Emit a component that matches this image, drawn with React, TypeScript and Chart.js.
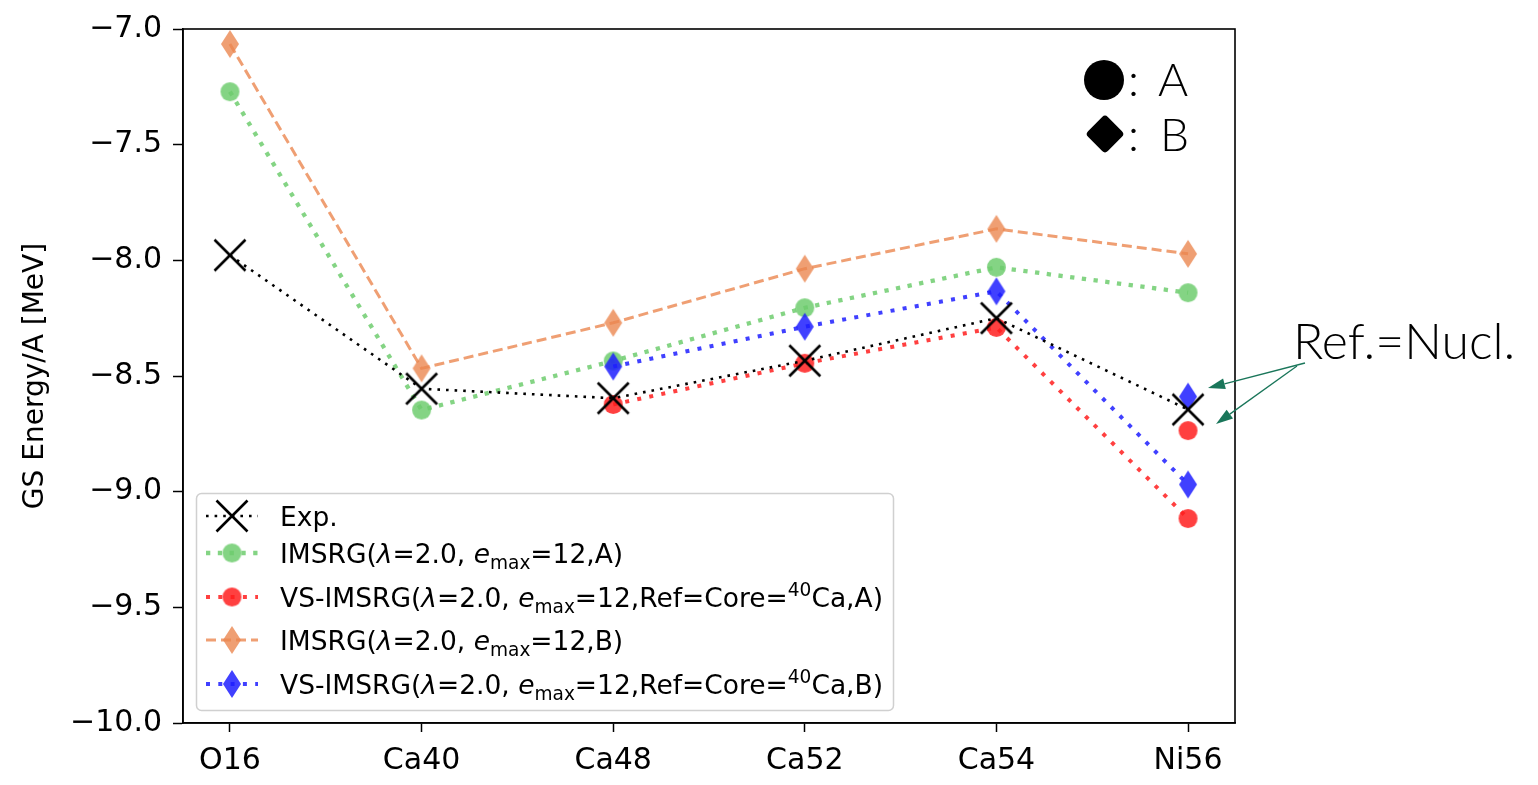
import React, { useEffect, useRef } from 'react';
import { Chart, registerables } from 'chart.js';

Chart.register(...registerables);

// ---------------- data ----------------
const categories = ['O16', 'Ca40', 'Ca48', 'Ca52', 'Ca54', 'Ni56'];
const expValues = [-7.978, -8.555, -8.596, -8.434, -8.25, -8.645];
const imsrgA = [-7.271, -8.647, -8.435, -8.205, -8.03, -8.14];
const vsImsrgA = [null, null, -8.623, -8.445, -8.29, -9.116];
const imsrgB = [-7.065, -8.467, -8.27, -8.036, -7.864, -7.972];
const vsImsrgB = [null, null, -8.459, -8.287, -8.134, -8.969];
const refNuclA = [null, null, null, null, null, -8.736];
const refNuclB = [null, null, null, null, null, -8.589];
const yTicks = [-10, -9.5, -9, -8.5, -8, -7.5, -7];

const GREEN = 'rgba(110,205,110,0.85)';
const RED = 'rgba(255,30,30,0.85)';
const BLUE = 'rgba(30,30,255,0.85)';
const ORANGE = 'rgba(235,135,80,0.8)';
const TEAL = 'rgb(26,118,90)';
const THIN = '300 50px Lato, "Open Sans", sans-serif';

const DASH_EXP = [2.6, 6];
const DASH_GREEN = [4.3, 7.5];
const DASH_VS = [4, 8.3];
const DASH_ORANGE = [10, 5];

function makeCircle(color: string, r: number) {
  const c = document.createElement('canvas');
  const s = Math.ceil(r * 2 + 2);
  c.width = s; c.height = s;
  const x = c.getContext('2d')!;
  x.fillStyle = color;
  x.beginPath();
  x.arc(s / 2, s / 2, r, 0, Math.PI * 2);
  x.fill();
  return c;
}
function makeDiamond(color: string, hw: number, hh: number) {
  const c = document.createElement('canvas');
  const w = Math.ceil(hw * 2 + 2), h = Math.ceil(hh * 2 + 2);
  c.width = w; c.height = h;
  const x = c.getContext('2d')!;
  x.fillStyle = color;
  x.beginPath();
  x.moveTo(w / 2, h / 2 - hh);
  x.lineTo(w / 2 + hw, h / 2);
  x.lineTo(w / 2, h / 2 + hh);
  x.lineTo(w / 2 - hw, h / 2);
  x.closePath();
  x.fill();
  return c;
}
function makeX(size: number, lw: number) {
  const c = document.createElement('canvas');
  const s = Math.ceil(size + lw + 2);
  c.width = s; c.height = s;
  const x = c.getContext('2d')!;
  x.strokeStyle = '#000';
  x.lineWidth = lw;
  const a = (s - size) / 2, b = a + size;
  x.beginPath();
  x.moveTo(a, a); x.lineTo(b, b);
  x.moveTo(b, a); x.lineTo(a, b);
  x.stroke();
  return c;
}

type Part = { t: string; s?: 'i' | 'sub' | 'sup' };
const FS = 26.5;
function drawRich(ctx: CanvasRenderingContext2D, x: number, y: number, parts: Part[]) {
  let cx = x;
  ctx.textBaseline = 'alphabetic';
  ctx.textAlign = 'left';
  ctx.fillStyle = '#000';
  for (const p of parts) {
    let font = `${FS}px "DejaVu Sans"`;
    let dy = 0;
    if (p.s === 'i') font = `italic ${FS}px "DejaVu Sans"`;
    if (p.s === 'sub') { font = `${FS * 0.7}px "DejaVu Sans"`; dy = 6; }
    if (p.s === 'sup') { font = `${FS * 0.7}px "DejaVu Sans"`; dy = -11; }
    ctx.font = font;
    ctx.fillText(p.t, cx, y + dy);
    cx += ctx.measureText(p.t).width;
  }
}

const lam: Part[] = [{ t: 'λ', s: 'i' }];
const emax: Part[] = [{ t: 'e', s: 'i' }, { t: 'max', s: 'sub' }];

function arrow(ctx: CanvasRenderingContext2D, x0: number, y0: number, x1: number, y1: number) {
  const ang = Math.atan2(y1 - y0, x1 - x0);
  const hl = 17, hw = 5.5;
  const bx = x1 - hl * Math.cos(ang), by = y1 - hl * Math.sin(ang);
  ctx.strokeStyle = TEAL;
  ctx.fillStyle = TEAL;
  ctx.lineWidth = 1.3;
  ctx.beginPath();
  ctx.moveTo(x0, y0);
  ctx.lineTo(bx, by);
  ctx.stroke();
  ctx.beginPath();
  ctx.moveTo(x1, y1);
  ctx.lineTo(bx + hw * Math.sin(ang), by - hw * Math.cos(ang));
  ctx.lineTo(bx - hw * Math.sin(ang), by + hw * Math.cos(ang));
  ctx.closePath();
  ctx.fill();
}

export default function App() {
  const ref = useRef<HTMLCanvasElement>(null);
  useEffect(() => {
    const xMark = makeX(31, 2.6);
    const gC = makeCircle(GREEN, 9.5);
    const rC = makeCircle(RED, 9.5);
    const oD = makeDiamond(ORANGE, 9, 14);
    const bD = makeDiamond(BLUE, 9, 14);
    const pts = (arr: (number | null)[]) =>
      arr.map((v, i) => ({ x: i, y: v })).filter((p) => p.y !== null);

    const legendRows = [
      { y: 516, color: '#000', lw: 2.6, dash: DASH_EXP, mark: xMark, parts: [{ t: 'Exp.' }] as Part[] },
      { y: 553, color: GREEN, lw: 4.3, dash: DASH_GREEN, mark: gC, parts: [{ t: 'IMSRG(' }, ...lam, { t: '=2.0, ' }, ...emax, { t: '=12,A)' }] as Part[] },
      { y: 597, color: RED, lw: 4, dash: DASH_VS, mark: rC, parts: [{ t: 'VS-IMSRG(' }, ...lam, { t: '=2.0, ' }, ...emax, { t: '=12,Ref=Core=' }, { t: '40', s: 'sup' }, { t: 'Ca,A)' }] as Part[] },
      { y: 640, color: ORANGE, lw: 3, dash: DASH_ORANGE, mark: oD, parts: [{ t: 'IMSRG(' }, ...lam, { t: '=2.0, ' }, ...emax, { t: '=12,B)' }] as Part[] },
      { y: 684, color: BLUE, lw: 4, dash: DASH_VS, mark: bD, parts: [{ t: 'VS-IMSRG(' }, ...lam, { t: '=2.0, ' }, ...emax, { t: '=12,Ref=Core=' }, { t: '40', s: 'sup' }, { t: 'Ca,B)' }] as Part[] },
    ];

    const overlay = {
      id: 'overlay',
      afterDraw(chart: any) {
        const ctx: CanvasRenderingContext2D = chart.ctx;
        const a = chart.chartArea;
        ctx.save();
        // frame
        ctx.strokeStyle = '#000';
        ctx.lineWidth = 1.6;
        ctx.strokeRect(a.left, a.top, a.right - a.left, a.bottom - a.top);
        // legend box
        ctx.beginPath();
        (ctx as any).roundRect(196.5, 493.5, 697, 217, 5);
        ctx.fillStyle = 'rgba(255,255,255,0.85)';
        ctx.fill();
        ctx.strokeStyle = '#d0d0d0';
        ctx.lineWidth = 1.5;
        ctx.stroke();
        for (const r of legendRows) {
          ctx.save();
          ctx.strokeStyle = r.color;
          ctx.lineWidth = r.lw;
          ctx.setLineDash(r.dash);
          ctx.beginPath();
          ctx.moveTo(206, r.y);
          ctx.lineTo(258, r.y);
          ctx.stroke();
          ctx.restore();
          ctx.drawImage(r.mark, 232 - r.mark.width / 2, r.y - r.mark.height / 2);
          drawRich(ctx, 280, r.y + 10, r.parts);
        }
        // shape key (A / B)
        ctx.fillStyle = '#000';
        ctx.beginPath();
        ctx.arc(1104, 80, 20, 0, Math.PI * 2);
        ctx.fill();
        ctx.save();
        ctx.translate(1105, 134);
        ctx.rotate(Math.PI / 4);
        ctx.beginPath();
        (ctx as any).roundRect(-14, -14, 28, 28, 4);
        ctx.fill();
        ctx.restore();
        ctx.font = '300 46px Lato, "Open Sans", sans-serif';
        ctx.textAlign = 'left';
        ctx.textBaseline = 'alphabetic';
        ctx.fillText(':', 1128, 96);
        ctx.fillText('A', 1158, 96);
        ctx.fillText(':', 1128, 151);
        ctx.fillText('B', 1160, 151);
        // annotation
        ctx.font = THIN;
        ctx.fillText('Ref.=Nucl.', 1293, 359);
        arrow(ctx, 1305, 363, 1208, 388);
        arrow(ctx, 1297, 366, 1216, 424);
        ctx.restore();
      },
    };

    const base = { showLine: true, fill: false, pointRadius: 10, clip: false as any };
    const chart = new Chart(ref.current!, {
      type: 'scatter',
      data: {
        datasets: [
          { ...base, label: 'Exp.', data: pts(expValues), borderColor: '#000', borderWidth: 2.6, borderDash: DASH_EXP, pointStyle: xMark },
          { ...base, label: 'refA', data: pts(refNuclA), showLine: false, pointStyle: rC },
          { ...base, label: 'refB', data: pts(refNuclB), showLine: false, pointStyle: bD },
          { ...base, label: 'VS-IMSRG B', data: pts(vsImsrgB), borderColor: BLUE, borderWidth: 4, borderDash: DASH_VS, pointStyle: bD },
          { ...base, label: 'IMSRG B', data: pts(imsrgB), borderColor: ORANGE, borderWidth: 3, borderDash: DASH_ORANGE, pointStyle: oD },
          { ...base, label: 'VS-IMSRG A', data: pts(vsImsrgA), borderColor: RED, borderWidth: 4, borderDash: DASH_VS, pointStyle: rC },
          { ...base, label: 'IMSRG A', data: pts(imsrgA), borderColor: GREEN, borderWidth: 4.3, borderDash: DASH_GREEN, pointStyle: gC },
        ] as any,
      },
      options: {
        animation: false,
        responsive: false,
        devicePixelRatio: 1,
        layout: { padding: { top: 26, right: 303, left: 0, bottom: 0 } },
        plugins: { legend: { display: false }, tooltip: { enabled: false } },
        scales: {
          x: {
            type: 'linear',
            min: -0.245,
            max: 5.245,
            afterBuildTicks: (s: any) => { s.ticks = categories.map((_, i) => ({ value: i })); },
            afterFit: (s: any) => { s.height = 62; },
            ticks: {
              callback: (v: any) => categories[v as number] ?? '',
              font: { family: 'DejaVu Sans', size: 30 },
              color: '#000',
              padding: 11,
              maxRotation: 0,
              autoSkip: false,
            },
            grid: { drawOnChartArea: false, drawTicks: true, tickLength: 9, tickWidth: 1.5, tickColor: '#000' },
            border: { display: true, color: '#000', width: 1.6 },
          },
          y: {
            type: 'linear',
            min: -10,
            max: -7,
            afterBuildTicks: (s: any) => { s.ticks = yTicks.map((v) => ({ value: v })); },
            afterFit: (s: any) => { s.width = 183; },
            ticks: {
              callback: (v: any) => (v < 0 ? '\u2212' : '') + Math.abs(v).toFixed(1),
              font: { family: 'DejaVu Sans', size: 30 },
              color: '#000',
              padding: 11,
            },
            grid: { drawOnChartArea: false, drawTicks: true, tickLength: 10, tickWidth: 1.5, tickColor: '#000' },
            border: { display: true, color: '#000', width: 1.6 },
            title: {
              display: true,
              text: 'GS Energy/A [MeV]',
              font: { family: 'DejaVu Sans', size: 28 },
              color: '#000',
              padding: { top: 19, bottom: 0 },
            },
          },
        },
      },
      plugins: [overlay],
    });
    return () => chart.destroy();
  }, []);

  return (
    <div style={{ position: 'fixed', left: 0, top: 0, width: 1538, height: 785, background: '#fff' }}>
      <canvas ref={ref} width={1538} height={785} style={{ display: 'block' }} />
    </div>
  );
}
